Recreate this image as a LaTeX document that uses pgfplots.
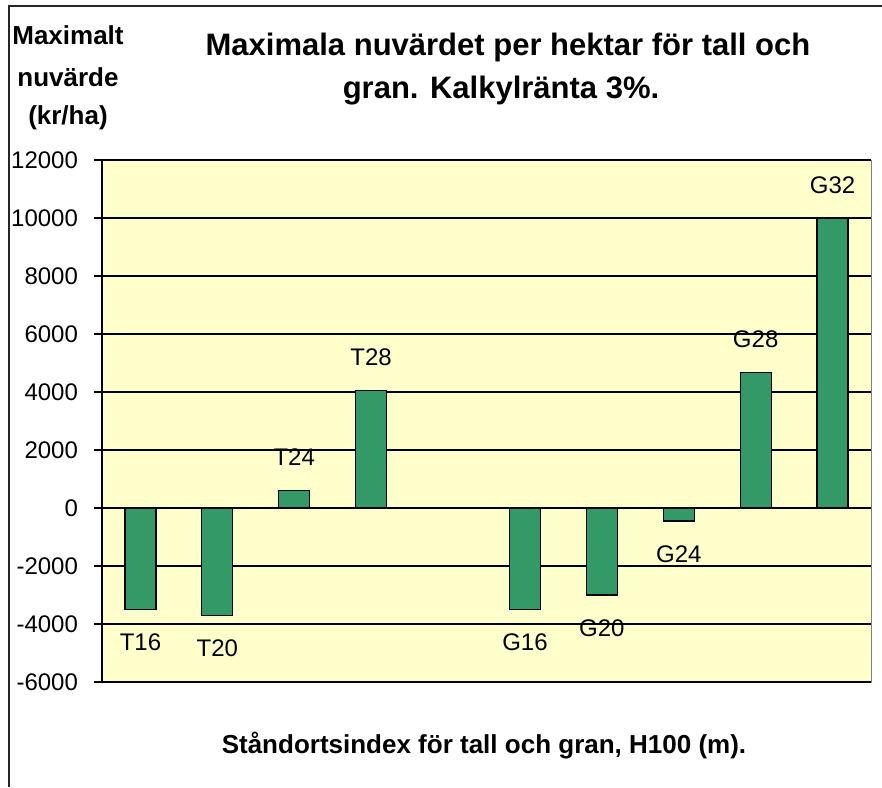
\documentclass[border=0pt]{standalone}
\usepackage{pgfplots}
\pgfplotsset{compat=1.18}
\usepackage{fontspec}
\setmainfont{Liberation Sans}
\definecolor{barg}{HTML}{339966}
\definecolor{bgy}{HTML}{FFFFCC}
\begin{document}
\begin{tikzpicture}
\useasboundingbox (-51pt,-52.5pt) rectangle (390pt,341pt);
\draw[black!85, line width=1pt] (-46.5pt,-52.5pt) -- (-46.5pt,338pt) -- (390pt,338pt);
\begin{axis}[
  at={(0pt,0pt)}, anchor=south west,
  scale only axis, width=384.5pt, height=261pt,
  xmin=-0.5, xmax=9.5, ymin=-6000, ymax=12000,
  ytick={-6000,-4000,...,12000},
  scaled y ticks=false,
  xtick=\empty,
  axis x line=none, axis y line*=left,
  axis line style={black, line width=0.6pt},
  axis background/.style={fill=bgy, draw=gray},
  ymajorgrids, grid style={black, line width=0.6pt},
  tick align=outside, major tick length=4pt, tick style={black, line width=0.6pt},
  /pgf/number format/assume math mode=true,
  /pgf/number format/1000 sep={},
  yticklabel style={font=\fontsize{12}{14}\selectfont, xshift=-4.5pt},
  ybar, bar width=15.5pt,
  nodes near coords, point meta=explicit symbolic,
]
% positive values: labels above the bars
\addplot[fill=barg, draw=black, line width=0.6pt, bar shift=0pt,
  nodes near coords style={font=\fontsize{12}{14}\selectfont, inner ysep=12pt, anchor=south}] coordinates {
 (2,600) [T24]
 (3,4050) [T28]
 (8,4680) [G28]
 (9,10000) [G32]
};
% negative values: labels below the bars
\addplot[fill=barg, draw=black, line width=0.6pt, bar shift=0pt,
  nodes near coords style={font=\fontsize{12}{14}\selectfont, inner ysep=12pt, anchor=north}] coordinates {
 (0,-3500) [T16]
 (1,-3700) [T20]
 (5,-3500) [G16]
 (6,-3000) [G20]
 (7,-450) [G24]
};
\end{axis}
\node[font=\fontsize{15.5}{18}\selectfont\bfseries, anchor=base] at (203pt,313pt) {Maximala nuvärdet per hektar för tall och};
\node[font=\fontsize{15.5}{18}\selectfont\bfseries, anchor=base] at (199.5pt,291.5pt) {gran. Kalkylränta 3\%.};
\node[font=\fontsize{13}{15}\selectfont\bfseries, anchor=base] at (-17pt,318.5pt) {Maximalt};
\node[font=\fontsize{13}{15}\selectfont\bfseries, anchor=base] at (-17pt,297.5pt) {nuvärde};
\node[font=\fontsize{13}{15}\selectfont\bfseries, anchor=base] at (-17pt,278.5pt) {(kr/ha)};
\node[font=\fontsize{13}{15}\selectfont\bfseries, anchor=base] at (191pt,-35.5pt) {Ståndortsindex för tall och gran, H100 (m).};
\end{tikzpicture}
\end{document}
